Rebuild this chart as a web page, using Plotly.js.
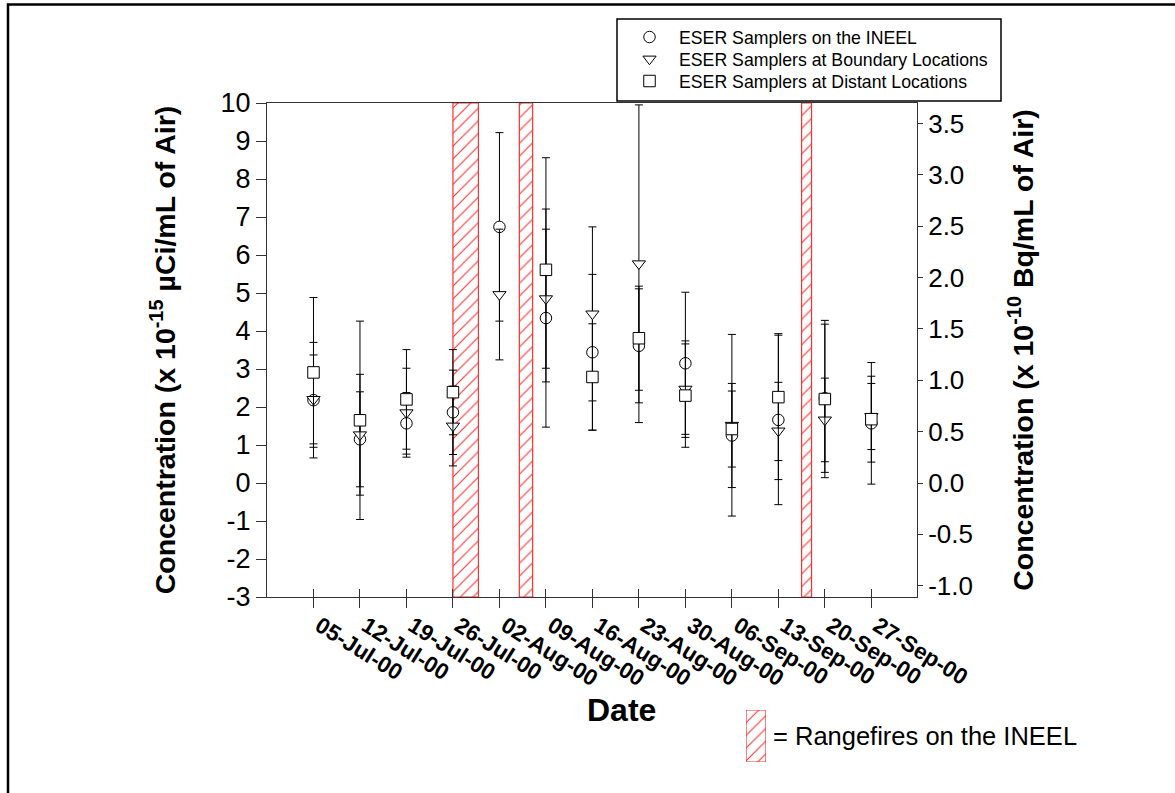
<!DOCTYPE html>
<html>
<head>
<meta charset="utf-8">
<script src="https://cdn.plot.ly/plotly-3.0.1.min.js"></script>
<style>html,body{margin:0;padding:0;background:#fff;}#chart{width:1175px;height:793px;}</style>
</head>
<body>
<div id="chart"></div>
<script>
// ---- data ----
const sampleDates = ['2000-07-05','2000-07-12','2000-07-19','2000-07-26','2000-08-02','2000-08-09','2000-08-16','2000-08-23','2000-08-30','2000-09-06','2000-09-13','2000-09-20','2000-09-27'];
const tickLabels = ['05-Jul-00','12-Jul-00','19-Jul-00','26-Jul-00','02-Aug-00','09-Aug-00','16-Aug-00','23-Aug-00','30-Aug-00','06-Sep-00','13-Sep-00','20-Sep-00','27-Sep-00'];
const ineel       = [2.18, 1.15, 1.57, 1.86, 6.74, 4.34, 3.44, 3.61, 3.15, 1.25, 1.66, 2.23, 1.57];
const ineelErr    = [1.52, 1.25, 0.81, 1.11, 2.48, 2.87, 2.05, 1.50, 1.87, 1.37, 2.23, 1.95, 1.60];
const boundary    = [2.20, 1.27, 1.85, 1.50, 4.96, 4.85, 4.45, 5.77, 2.47, 1.52, 1.37, 1.66, 1.75];
const boundaryErr = [1.17, 1.59, 1.17, 1.05, 1.72, 1.83, 2.29, 4.18, 1.27, 2.39, 1.28, 1.10, 0.87];
const distant     = [2.91, 1.65, 2.20, 2.39, null, 5.61, 2.79, 3.81, 2.30, 1.42, 2.26, 2.21, 1.68];
const distantErr  = [1.97, 2.61, 1.31, 1.12, null, 2.95, 1.40, 1.37, 1.36, 1.00, 1.67, 2.07, 1.13];
const fireStart = ['2000-07-26T00:00:00Z','2000-08-05T00:00:00Z','2000-09-16T12:00:00Z'];
const fireEnd   = ['2000-07-29T20:00:00Z','2000-08-07T00:00:00Z','2000-09-18T00:00:00Z'];
const seriesNames = ['ESER Samplers on the INEEL','ESER Samplers at Boundary Locations','ESER Samplers at Distant Locations'];
const leftTickVals  = [-3, -2, -1, 0, 1, 2, 3, 4, 5, 6, 7, 8, 9, 10];
const leftTickText  = ['-3','-2','-1','0','1','2','3','4','5','6','7','8','9','10'];
const rightTickVals = [-1.0, -0.5, 0.0, 0.5, 1.0, 1.5, 2.0, 2.5, 3.0, 3.5];
const rightTickText = ['-1.0','-0.5','0.0','0.5','1.0','1.5','2.0','2.5','3.0','3.5'];

// ---- scales ----
const yMin = -3, yMax = 10;
const bqFactor = 0.37; // 1e-15 uCi/mL = 0.37e-10 Bq/mL
const xRange = ['2000-06-28 00:00', '2000-10-03 21:00'];
const W = 1175, H = 793;
const px = v => v / W, py = v => 1 - v / H;
const FONT = 'Liberation Sans, Arial, sans-serif';

const fireMid = fireStart.map((s, i) => new Date((Date.parse(s) + Date.parse(fireEnd[i])) / 2).toISOString().replace('Z', ''));
const fireWidth = fireStart.map((s, i) => Date.parse(fireEnd[i]) - Date.parse(s));

const hatch = {shape: '/', fgcolor: '#ff3030', bgcolor: 'white', size: 9, solidity: 0.12};

const errStyle = arr => ({type: 'data', array: arr, visible: true, color: 'black', thickness: 1, width: 4});
const mk = sym => ({symbol: sym, size: 11.5, color: 'white', line: {color: 'black', width: 1}});

const traces = [
  {type: 'bar', x: fireMid, y: fireMid.map(() => yMax - yMin), base: yMin, width: fireWidth,
   marker: {color: 'white', pattern: hatch, line: {color: '#ff3030', width: 1.2}},
   showlegend: false, hoverinfo: 'skip', xaxis: 'x', yaxis: 'y'},
  {type: 'scatter', mode: 'markers', name: seriesNames[0], x: sampleDates, y: ineel, legend: 'legend',
   error_y: errStyle(ineelErr), marker: mk('circle'), xaxis: 'x', yaxis: 'y'},
  {type: 'scatter', mode: 'markers', name: seriesNames[1], x: sampleDates, y: boundary, legend: 'legend2',
   error_y: errStyle(boundaryErr), marker: mk('triangle-down'), xaxis: 'x', yaxis: 'y'},
  {type: 'scatter', mode: 'markers', name: seriesNames[2], x: sampleDates, y: distant, legend: 'legend3',
   error_y: errStyle(distantErr), marker: mk('square'), xaxis: 'x', yaxis: 'y'},
  {type: 'scatter', x: [], y: [], xaxis: 'x2', yaxis: 'y', showlegend: false},
  {type: 'scatter', x: [], y: [], xaxis: 'x', yaxis: 'y2', showlegend: false},
  // legend swatch for range fires
  {type: 'bar', x: [0.5], y: [1], base: 0, width: 1,
   marker: {color: 'white', pattern: hatch, line: {color: '#ff3030', width: 1.2}},
   showlegend: false, hoverinfo: 'skip', xaxis: 'x3', yaxis: 'y3'}
];

const legendBase = top => ({x: px(620), y: py(top), xanchor: 'left', yanchor: 'top', bgcolor: 'rgba(0,0,0,0)',
  borderwidth: 0, font: {family: FONT, size: 17.7, color: 'black'}, itemwidth: 49});

const axCol = '#333';
const layout = {
  width: W, height: H,
  margin: {l: 0, r: 0, t: 0, b: 0},
  paper_bgcolor: 'white', plot_bgcolor: 'white',
  font: {family: FONT, color: 'black'},
  barmode: 'overlay',
  showlegend: true,
  legend: legendBase(19),
  legend2: legendBase(41),
  legend3: legendBase(63),
  xaxis: {domain: [px(267), px(917)], type: 'date', range: xRange, anchor: 'y',
          tickmode: 'array', tickvals: sampleDates, ticktext: tickLabels, tickangle: 32,
          ticks: 'outside', ticklen: 10, tickcolor: axCol, showline: true, linecolor: axCol, linewidth: 1,
          mirror: true, showgrid: false, zeroline: false, ticklabelstandoff: -4, ticklabelshift: 6,
          tickfont: {family: FONT, size: 22.5, weight: 'bold', color: 'black'}},
  xaxis2: {domain: [px(267), px(917)], type: 'date', range: xRange, overlaying: 'x', anchor: 'y', side: 'bottom',
           tickmode: 'array', tickvals: sampleDates, ticks: 'inside', ticklen: 8, tickcolor: axCol,
           showticklabels: false, showline: false, showgrid: false, zeroline: false},
  yaxis: {domain: [py(597), py(103)], range: [yMin, yMax], tickmode: 'array', tickvals: leftTickVals, ticktext: leftTickText,
          ticks: 'outside', ticklen: 10, tickcolor: axCol, showline: true, linecolor: axCol, linewidth: 1,
          showgrid: false, zeroline: false, anchor: 'x',
          tickfont: {family: FONT, size: 27, color: 'black'},
          title: {text: 'Concentration (x 10<sup>-15</sup> µCi/mL of Air)', font: {family: FONT, size: 28.5, weight: 'bold', color: 'black'}, standoff: 36}},
  yaxis2: {domain: [py(597), py(103)], range: [yMin * bqFactor, yMax * bqFactor], overlaying: 'y', side: 'right', anchor: 'x',
           tickmode: 'array', tickvals: rightTickVals, ticktext: rightTickText,
           ticks: 'outside', ticklen: 5, tickcolor: axCol, showline: true, linecolor: axCol, linewidth: 1,
           showgrid: false, zeroline: false,
           tickfont: {family: FONT, size: 26, color: 'black'},
           title: {text: 'Concentration (x 10<sup>-10</sup> Bq/mL of Air)', font: {family: FONT, size: 28.5, weight: 'bold', color: 'black'}, standoff: 41}},
  xaxis3: {domain: [px(746), px(766)], range: [0, 1], visible: false, anchor: 'y3', fixedrange: true},
  yaxis3: {domain: [py(762), py(710)], range: [0, 1], visible: false, anchor: 'x3', fixedrange: true},
  shapes: [
    {type: 'rect', xref: 'paper', yref: 'paper', x0: px(617), x1: px(1001), y0: py(101), y1: py(19),
     line: {color: 'black', width: 1.5}, fillcolor: 'rgba(0,0,0,0)'},
    {type: 'rect', xref: 'paper', yref: 'paper', x0: px(8), x1: 1.05, y0: -0.05, y1: py(4.5),
     line: {color: 'black', width: 2.5}, fillcolor: 'rgba(0,0,0,0)'}
  ],
  annotations: [
    {xref: 'paper', yref: 'paper', x: px(621), y: py(710), xanchor: 'center', yanchor: 'middle', showarrow: false,
     text: 'Date', font: {family: FONT, size: 32, weight: 'bold', color: 'black'}},
    {xref: 'paper', yref: 'paper', x: px(771), y: py(736), xanchor: 'left', yanchor: 'middle', showarrow: false,
     text: '= Rangefires on the INEEL', font: {family: FONT, size: 25.5, color: 'black'}}
  ]
};

Plotly.newPlot('chart', traces, layout, {displayModeBar: false, staticPlot: true});
</script>
</body>
</html>
